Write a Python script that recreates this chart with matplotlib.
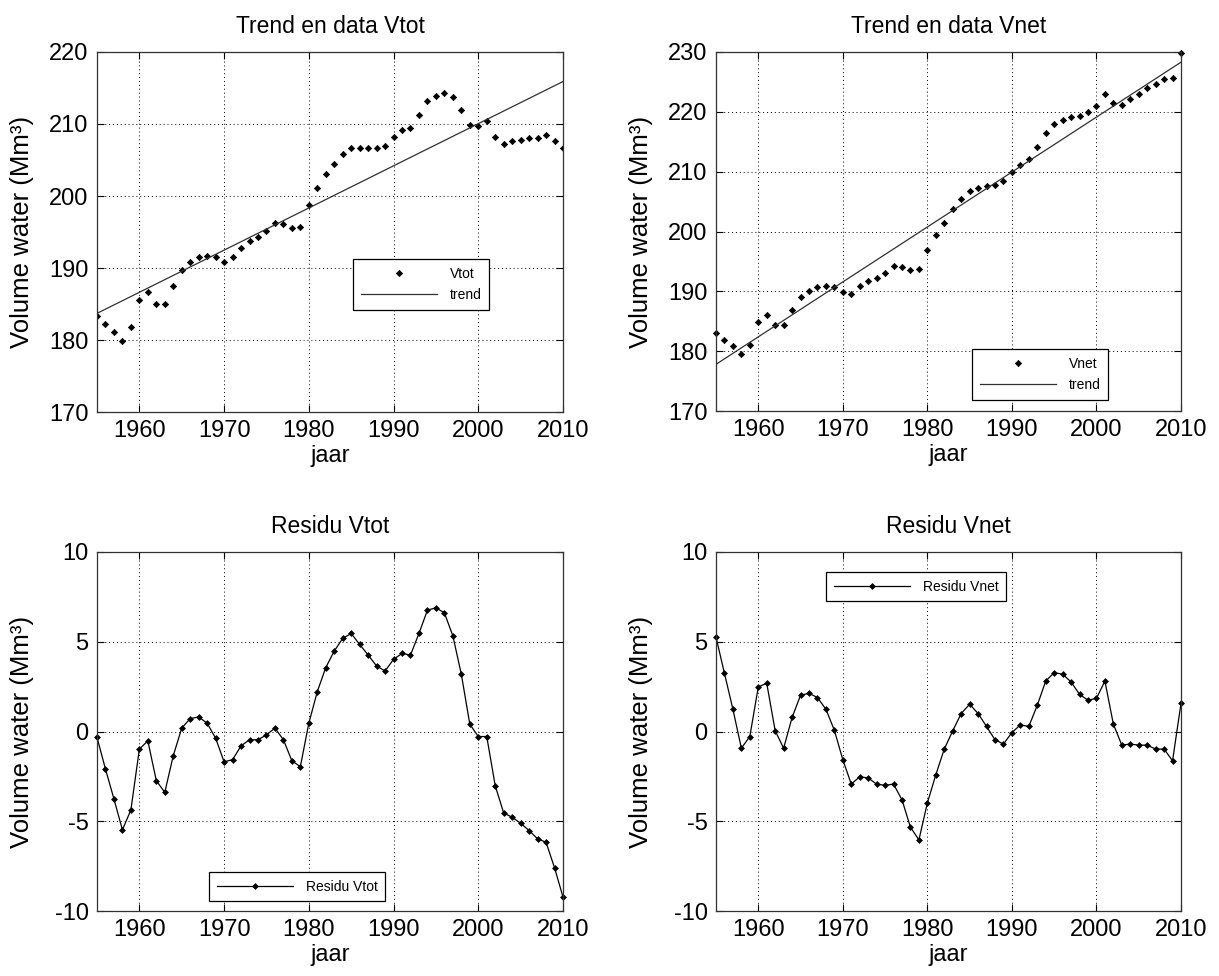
import numpy as np
import matplotlib
matplotlib.use('AGG')
import matplotlib.pyplot as plt

plt.rcParams['font.family'] = ['Liberation Sans', 'DejaVu Sans']
plt.rcParams['axes.unicode_minus'] = False

# jaren (1955 t/m 2010)
jaren = np.arange(1955, 2011)

# gemeten volumes (Mm3)
vtot = [183.4, 182.2, 181.1, 179.9, 181.8, 185.6, 186.6, 185.0, 185.0, 187.5,
        189.7, 190.9, 191.5, 191.6, 191.5, 190.9, 191.5, 192.8, 193.8, 194.3,
        195.2, 196.2, 196.1, 195.6, 195.7, 198.8, 201.1, 203.1, 204.5, 205.8,
        206.7, 206.7, 206.7, 206.7, 206.9, 208.2, 209.1, 209.5, 211.3, 213.2,
        213.9, 214.3, 213.7, 212.0, 209.9, 209.7, 210.4, 208.2, 207.2, 207.6,
        207.8, 208.1, 208.1, 208.5, 207.6, 206.6]

vnet = [183.0, 181.9, 180.9, 179.5, 181.1, 184.8, 186.0, 184.3, 184.3, 186.8,
        189.0, 190.1, 190.7, 190.9, 190.7, 189.9, 189.5, 190.9, 191.7, 192.3,
        193.1, 194.2, 194.1, 193.5, 193.7, 196.9, 199.4, 201.5, 203.7, 205.5,
        206.8, 207.3, 207.6, 207.7, 208.5, 210.0, 211.1, 212.1, 214.1, 216.5,
        217.9, 218.6, 219.2, 219.3, 220.0, 221.0, 223.0, 221.4, 221.2, 222.1,
        223.0, 223.9, 224.6, 225.5, 225.7, 229.8]

# trendlijnen (begin- en eindwaarde)
trend_jaren = [1955, 2010]
trend_vtot = [183.7, 215.9]
trend_vnet = [177.8, 228.3]

# residuen
res_vtot = [-0.33, -2.09, -3.76, -5.48, -4.37, -0.98, -0.52, -2.74, -3.39, -1.35,
            0.19, 0.72, 0.81, 0.46, -0.37, -1.69, -1.57, -0.80, -0.46, -0.46,
            -0.19, 0.19, -0.46, -1.63, -1.96, 0.46, 2.22, 3.56, 4.48, 5.19,
            5.46, 4.85, 4.26, 3.65, 3.37, 4.02, 4.35, 4.26, 5.46, 6.76,
            6.89, 6.61, 5.33, 3.19, 0.41, -0.28, -0.28, -3.02, -4.54, -4.78,
            -5.11, -5.52, -5.98, -6.17, -7.59, -9.22]

res_vnet = [5.26, 3.24, 1.24, -0.93, -0.28, 2.48, 2.69, 0.04, -0.93, 0.78,
            2.02, 2.13, 1.89, 1.24, 0.07, -1.57, -2.93, -2.52, -2.59, -2.93,
            -3.00, -2.93, -3.81, -5.33, -6.04, -3.98, -2.41, -0.98, 0.04, 1.00,
            1.52, 1.00, 0.28, -0.46, -0.70, -0.06, 0.37, 0.28, 1.46, 2.81,
            3.28, 3.19, 2.76, 2.07, 1.74, 1.85, 2.81, 0.41, -0.76, -0.70,
            -0.76, -0.76, -0.98, -0.98, -1.63, 1.56]

xticks = [1960, 1970, 1980, 1990, 2000, 2010]
ylabel = 'Volume water (Mm\u00b3)'

fig = plt.figure(figsize=(12.19, 9.76), dpi=100)

W, H = 1219.0, 976.0


# axes in pixel coordinates (left, top, right, bottom)
def make_axes(l, t, r, b):
    return fig.add_axes([l / W, 1 - b / H, (r - l) / W, (b - t) / H])


# matlab look: box, ticks inside, dotted grid
def style(ax, title, ylim, yticks):
    ax.set_xlim(1955, 2010)
    ax.set_ylim(*ylim)
    ax.set_xticks(xticks)
    ax.set_yticks(yticks)
    ax.grid(True, color='black', linestyle=(0, (1, 3)), linewidth=0.7)
    ax.tick_params(direction='in', top=True, right=True, length=5,
                   width=0.8, labelsize=17, pad=6)
    for s in ax.spines.values():
        s.set_linewidth(0.9)
        s.set_color('#303030')
    ax.set_title(title, fontsize=16.5, pad=14)
    ax.set_xlabel('jaar', fontsize=17, labelpad=2)
    ax.set_ylabel(ylabel, fontsize=18.5)
    ax.yaxis.set_label_coords(-0.135, 0.5)


def add_legend(ax, x, y):
    leg = ax.legend(loc='upper left', bbox_to_anchor=(x / W, 1 - y / H),
                    bbox_transform=fig.transFigure, borderaxespad=0,
                    fontsize=10, fancybox=False, framealpha=1,
                    edgecolor='black', borderpad=0.55, labelspacing=0.55,
                    handlelength=5.5, handletextpad=0.9, numpoints=1)
    leg.get_frame().set_linewidth(0.9)


# bovenaan links: Vtot met trend
ax1 = make_axes(97, 52, 563, 412)
ax1.plot(jaren, vtot, linestyle='none', marker='D', markersize=3.2,
         markeredgewidth=0.5, color='black', label='Vtot')
ax1.plot(trend_jaren, trend_vtot, color='#303030', linewidth=0.9, label='trend')
style(ax1, 'Trend en data Vtot', (170, 220), [170, 180, 190, 200, 210, 220])
add_legend(ax1, 353, 259)

# bovenaan rechts: Vnet met trend
ax2 = make_axes(716, 52, 1181, 411)
ax2.plot(jaren, vnet, linestyle='none', marker='D', markersize=3.2,
         markeredgewidth=0.5, color='black', label='Vnet', clip_on=False)
ax2.plot(trend_jaren, trend_vnet, color='#303030', linewidth=0.9, label='trend')
style(ax2, 'Trend en data Vnet', (170, 230), [170, 180, 190, 200, 210, 220, 230])
add_legend(ax2, 972, 349)

# onderaan links: residu Vtot
ax3 = make_axes(97, 552, 563, 911)
ax3.plot(jaren, res_vtot, color='black', linewidth=0.9, marker='D',
         markersize=3.0, markeredgewidth=0.5, label='Residu Vtot', clip_on=False)
style(ax3, 'Residu Vtot', (-10, 10), [-10, -5, 0, 5, 10])
add_legend(ax3, 209, 872)

# onderaan rechts: residu Vnet
ax4 = make_axes(716, 552, 1181, 911)
ax4.plot(jaren, res_vnet, color='black', linewidth=0.9, marker='D',
         markersize=3.0, markeredgewidth=0.5, label='Residu Vnet', clip_on=False)
style(ax4, 'Residu Vnet', (-10, 10), [-10, -5, 0, 5, 10])
add_legend(ax4, 826, 572)

fig.savefig('out.png', dpi=100)
